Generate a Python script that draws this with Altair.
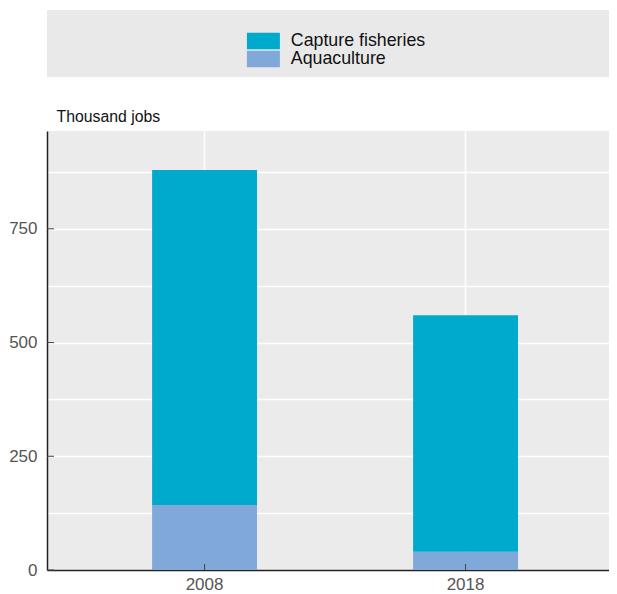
import altair as alt
import pandas as pd

years = ["2008", "2018"]
capture = [736, 520]
aquaculture = [143, 40]
series = ["Capture fisheries", "Aquaculture"]
colors = ["#00aacc", "#80a8d8"]
ytick_values = [0, 250, 500, 750]
grid_values = [0, 125, 250, 375, 500, 625, 750, 875]

rows = []
for i, y in enumerate(years):
    rows.append({"year": y, "series": "Aquaculture", "jobs": aquaculture[i], "ord": 0})
    rows.append({"year": y, "series": "Capture fisheries", "jobs": capture[i], "ord": 1})
df = pd.DataFrame(rows)

W, H = 562, 439
FONT = "Liberation Sans"

xscale = alt.Scale(paddingInner=0.598, paddingOuter=0.3757, align=0.536)
yscale = alt.Scale(domain=[0, 965], nice=False, zero=True)

xaxis = alt.Axis(title=None, labelAngle=0, grid=True, gridColor="white",
                 gridWidth=1.6, ticks=False, bandPosition=0.5,
                 labelFontSize=17, labelColor="#555555", labelFont=FONT,
                 labelPadding=6, domainColor="#222222", domainWidth=1.5)
yaxis = alt.Axis(values=grid_values, grid=True, gridColor="white", gridWidth=1.3,
                 ticks=False,
                 labelExpr="datum.value % 250 == 0 ? datum.label : ''",
                 labelFontSize=17, labelColor="#555555", labelFont=FONT,
                 labelPadding=10, domainColor="#222222", domainWidth=1.5,
                 title="Thousand jobs", titleAngle=0, titleAlign="left",
                 titleBaseline="alphabetic", titleX=9, titleY=-10,
                 titleFontSize=15.8, titleFontWeight="normal",
                 titleColor="#111111", titleFont=FONT)

box = alt.Chart(pd.DataFrame({"a": [0]})).mark_rect(color="#e9e9e9").encode(
    x=alt.value(0), x2=alt.value(W), y=alt.value(-121), y2=alt.value(-54)
)

bars = alt.Chart(df).mark_bar().encode(
    x=alt.X("year:N", scale=xscale, sort=years, axis=xaxis),
    y=alt.Y("jobs:Q", stack="zero", scale=yscale, axis=yaxis),
    color=alt.Color("series:N", scale=alt.Scale(domain=series, range=colors),
                    legend=alt.Legend(title=None, orient="none", legendX=207.5, legendY=-99,
                                      padding=0,
                                      symbolType="M-2,-1H2V1H-2Z", symbolSize=272,
                                      symbolStrokeWidth=0, symbolOpacity=1,
                                      labelFontSize=17.8, labelFont=FONT, labelColor="#111111",
                                      labelOffset=18.5, rowPadding=-2.5)),
    order=alt.Order("ord:Q", sort="ascending"),
)

ytk = alt.Chart(pd.DataFrame({"jobs": ytick_values})).mark_rule(color="#444444", strokeWidth=1).encode(
    y=alt.Y("jobs:Q", scale=yscale, axis=yaxis), x=alt.value(0), x2=alt.value(7)
)
xtk = alt.Chart(pd.DataFrame({"year": years})).mark_rule(color="#444444", strokeWidth=1).encode(
    x=alt.X("year:N", scale=xscale, sort=years, axis=xaxis), y=alt.value(H), y2=alt.value(H - 6)
)

chart = alt.layer(box, bars, ytk, xtk).properties(
    width=W, height=H,
    padding={"left": 0, "top": 2, "right": 0, "bottom": 0},
).configure(background="white").configure_view(fill="#ebebeb", stroke=None)

chart.save("out.html", embed_options={"renderer": "svg", "actions": False})
